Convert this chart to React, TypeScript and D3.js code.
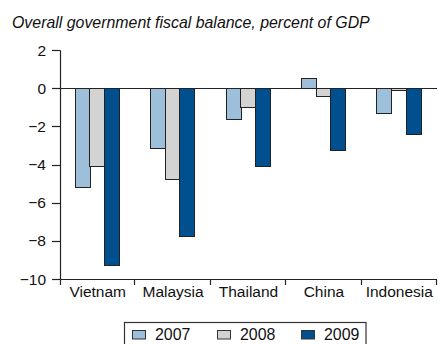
import React from "react";
import * as d3 from "d3";

const categories = ["Vietnam", "Malaysia", "Thailand", "China", "Indonesia"];
const years = ["2007", "2008", "2009"];
const values2007 = [-5.2, -3.15, -1.65, 0.55, -1.3];
const values2008 = [-4.1, -4.75, -1.0, -0.4, -0.08];
const values2009 = [-9.3, -7.75, -4.1, -3.25, -2.4];
const yTicks = [2, 0, -2, -4, -6, -8, -10];
const colors = ["#9dbfd9", "#d3d3d3", "#00508f"];
const title = "Overall government fiscal balance, percent of GDP";

const W = 438;
const H = 344;
const FONT = "'Liberation Sans', Arial, Helvetica, sans-serif";

export default function App() {
  const series = [values2007, values2008, values2009];
  const x0 = d3.scaleBand<string>().domain(categories).range([60, 437]).padding(0);
  const x1 = d3
    .scaleBand<string>()
    .domain(years)
    .range([0, x0.bandwidth()])
    .paddingInner(0)
    .paddingOuter(1.07)
    .align(0.47);
  const y = d3.scaleLinear().domain([-10, 2]).range([279, 50]);
  const y0 = Math.round(y(0)) + 0.5;
  const yBottom = Math.round(y(-10)) + 0.5;
  const axisX = 60.5;

  const legendItems = years.map((yr, i) => ({ yr, color: colors[i], x: [132.5, 217.5, 301.5][i] }));

  return (
    <div style={{ position: "absolute", left: 0, top: 0 }}>
      <svg width={W} height={H} style={{ display: "block" }}>
        <rect x={0} y={0} width={W} height={H} fill="#fff" />
        <text x={12} y={28} fontFamily={FONT} fontStyle="italic" fontSize={15.9} fill="#111">
          {title}
        </text>
        {/* bars */}
        {categories.map((c, ci) =>
          years.map((yr, si) => {
            const v = series[si][ci];
            const bx = (x0(c) as number) + (x1(yr) as number);
            const top = Math.min(y(v), y(0));
            const h = Math.abs(y(v) - y(0));
            return (
              <rect
                key={c + yr}
                x={Math.round(bx) + 0.5}
                y={Math.round(top) + 0.5}
                width={Math.round(x1.bandwidth())}
                height={Math.max(0, Math.round(h))}
                fill={colors[si]}
                stroke="#222"
                strokeWidth={1}
              />
            );
          })
        )}
        {/* y axis */}
        <line x1={axisX} x2={axisX} y1={Math.round(y(2)) + 0.5} y2={yBottom} stroke="#222" strokeWidth={1.2} />
        {yTicks.map((t) => (
          <g key={t}>
            <line x1={52} x2={axisX} y1={Math.round(y(t)) + 0.5} y2={Math.round(y(t)) + 0.5} stroke="#222" strokeWidth={1.2} />
            <text
              x={46}
              y={y(t)}
              dy="0.36em"
              textAnchor="end"
              fontFamily={FONT}
              fontSize={15.5}
              fill="#111"
            >
              {t < 0 ? "\u2212" + Math.abs(t) : String(t)}
            </text>
          </g>
        ))}
        {/* zero line */}
        <line x1={52} x2={437} y1={y0} y2={y0} stroke="#222" strokeWidth={1.2} />
        {/* bottom axis */}
        <line x1={axisX} x2={437} y1={yBottom} y2={yBottom} stroke="#222" strokeWidth={1.2} />
        {[...categories.map((c) => x0(c) as number), 437].map((xx, i) => (
          <line key={i} x1={Math.round(xx) - 0.5 + (i === 0 ? 1 : 0)} x2={Math.round(xx) - 0.5 + (i === 0 ? 1 : 0)} y1={yBottom} y2={285} stroke="#222" strokeWidth={1.2} />
        ))}
        {categories.map((c) => (
          <text
            key={c}
            x={(x0(c) as number) + x0.bandwidth() / 2}
            y={297}
            textAnchor="middle"
            fontFamily={FONT}
            fontSize={15.5}
            fill="#111"
          >
            {c}
          </text>
        ))}
        {/* legend */}
        <rect x={124.5} y={322.5} width={241.5} height={26} fill="#fff" stroke="#333" strokeWidth={1.2} />
        {legendItems.map((it) => (
          <g key={it.yr}>
            <rect x={it.x} y={330.5} width={13} height={8.5} fill={it.color} stroke="#333" strokeWidth={1} />
            <text x={it.x + 22.5} y={340} fontFamily={FONT} fontSize={15.9} fill="#111">
              {it.yr}
            </text>
          </g>
        ))}
      </svg>
    </div>
  );
}
